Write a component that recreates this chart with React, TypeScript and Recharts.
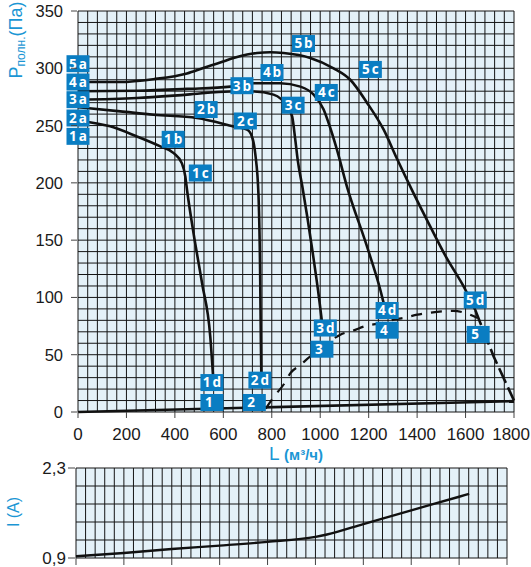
import { LineChart, Line, XAxis, YAxis, CartesianGrid, ReferenceDot } from 'recharts'

// fan curves, pressure (Pa) vs flow (m3/h)
const CURVE_1 = [
  { x: 0, y: 254.5 }, { x: 133, y: 249.3 }, { x: 243, y: 240.5 }, { x: 340, y: 231.8 },
  { x: 395, y: 226 }, { x: 429, y: 217 }, { x: 443, y: 205.6 }, { x: 450, y: 194 },
  { x: 477, y: 156 }, { x: 512, y: 112.6 }, { x: 546, y: 66 }, { x: 558, y: 30 },
]
const CURVE_2 = [
  { x: 0, y: 266 }, { x: 175, y: 262.4 }, { x: 312, y: 259.5 }, { x: 491, y: 256.6 },
  { x: 642, y: 249.3 }, { x: 698, y: 246.4 }, { x: 718, y: 240.5 }, { x: 732, y: 225 },
  { x: 745, y: 190 }, { x: 752, y: 120 }, { x: 755, y: 60 }, { x: 757, y: 30 },
]
const CURVE_3 = [
  { x: 0, y: 272.5 }, { x: 243, y: 274 }, { x: 450, y: 277 }, { x: 629, y: 279.8 },
  { x: 725, y: 279.8 }, { x: 807, y: 277 }, { x: 863, y: 266.7 }, { x: 884, y: 258 },
  { x: 897, y: 237.7 }, { x: 907, y: 220 }, { x: 926, y: 197 }, { x: 969, y: 139 },
  { x: 996, y: 98 }, { x: 1007, y: 79 },
]
const CURVE_4 = [
  { x: 0, y: 280 }, { x: 243, y: 280.4 }, { x: 450, y: 282 }, { x: 629, y: 284 },
  { x: 725, y: 287 }, { x: 835, y: 287 }, { x: 918, y: 284 }, { x: 973, y: 277 },
  { x: 1014, y: 264 }, { x: 1035, y: 252 }, { x: 1069, y: 229 }, { x: 1110, y: 197 },
  { x: 1193, y: 144.5 }, { x: 1248, y: 106.7 }, { x: 1262, y: 95 },
]
const CURVE_5 = [
  { x: 0, y: 288 }, { x: 175, y: 288 }, { x: 312, y: 290.5 }, { x: 450, y: 295.5 },
  { x: 520, y: 300.5 }, { x: 587, y: 305 }, { x: 642, y: 309 }, { x: 698, y: 312 },
  { x: 739, y: 313.3 }, { x: 794, y: 314 }, { x: 849, y: 313.3 }, { x: 959, y: 309 },
  { x: 1055, y: 300 }, { x: 1124, y: 290 }, { x: 1193, y: 270 }, { x: 1262, y: 246.4 },
  { x: 1317, y: 221 }, { x: 1385, y: 191 }, { x: 1454, y: 162 }, { x: 1523, y: 134 },
  { x: 1592, y: 109.6 }, { x: 1640, y: 89 },
]
const CURVE_5_TAIL = [{ x: 1640, y: 89 }, { x: 1716, y: 48.5 }, { x: 1800, y: 10 }]
const SYSTEM = [
  { x: 775, y: 3 }, { x: 815, y: 15 }, { x: 849, y: 24 }, { x: 877, y: 34 },
  { x: 918, y: 41 }, { x: 959, y: 48.5 }, { x: 993, y: 53 }, { x: 1048, y: 63 },
  { x: 1083, y: 67.5 }, { x: 1135, y: 71 }, { x: 1186, y: 75 }, { x: 1261, y: 78 },
  { x: 1310, y: 81 }, { x: 1343, y: 82 }, { x: 1401, y: 85 }, { x: 1446, y: 86.4 },
  { x: 1504, y: 87.8 }, { x: 1550, y: 88.3 }, { x: 1599, y: 86.4 }, { x: 1650, y: 82 },
]
const BASE = [{ x: 0, y: 0 }, { x: 1800, y: 9.5 }]

// current (A) vs flow
const CURRENT = [
  { x: 0, y: 0.926 }, { x: 200, y: 0.978 }, { x: 400, y: 1.041 }, { x: 600, y: 1.093 },
  { x: 800, y: 1.151 }, { x: 1000, y: 1.229 }, { x: 1048, y: 1.266 }, { x: 1200, y: 1.428 },
  { x: 1400, y: 1.642 }, { x: 1600, y: 1.853 }, { x: 1642, y: 1.898 },
]

// curve tags: [text, flow, pressure]
const TAGS: [string, number, number][] = [
  ['5a', 0, 304], ['4a', 0, 288], ['3a', 0, 272.6], ['2a', 0, 256.6], ['1a', 0, 240.6],
  ['1b', 393, 238], ['1c', 505, 208.6], ['2b', 529, 264], ['2c', 691, 254],
  ['3b', 677, 284.8], ['4b', 801, 296.3], ['5b', 931, 321.6], ['3c', 888, 267.8],
  ['4c', 1025, 278.9], ['5c', 1207, 299], ['1d', 553, 25.7], ['2d', 751, 27.8],
  ['3d', 1021, 73.3], ['4d', 1276, 88.6], ['5d', 1640, 97.8],
]
const POINT_TAGS: [string, number, number][] = [
  ['1', 553, 8.3], ['2', 728, 8.3], ['3', 1007, 54.8], ['4', 1276, 71.4], ['5', 1652, 67.7],
]

const FLOW_GRID = Array.from({ length: 46 }, (_, i) => i * 40)
const FLOW_LABELS = [0, 200, 400, 600, 800, 1000, 1200, 1400, 1600, 1800]
const PRESSURE_GRID = Array.from({ length: 36 }, (_, i) => i * 10)
const PRESSURE_LABELS = [0, 50, 100, 150, 200, 250, 300, 350]
const CURRENT_GRID = [0.9, 1.18, 1.46, 1.74, 2.02, 2.3]
const CURRENT_LABELS = [0.9, 2.3]

const FONT = "'Liberation Sans', Arial, sans-serif"
const BLUE = '#1b96d4'
const TAG_BLUE = '#0a7dc2'
const BG = '#e4f1f8'
const GRID = '#151515'

function FlowTick({ x, y, payload }: any) {
  const v = payload.value
  if (!FLOW_LABELS.includes(v)) return <g />
  const last = v === 1800
  return (
    <g>
      <line x1={x} x2={x} y1={y} y2={y + 6} stroke="#444" />
      <text
        x={last ? x + 16 : x} y={y + 28} textAnchor={last ? 'end' : 'middle'}
        fontSize={17} fill="#1a1a1a" fontFamily={FONT}
      >
        {v}
      </text>
    </g>
  )
}

function FlowTickBare({ x, y, payload }: any) {
  if (!FLOW_LABELS.includes(payload.value)) return <g />
  return <line x1={x} x2={x} y1={y} y2={y + 7} stroke="#444" />
}

function PressureTick({ x, y, payload }: any) {
  const v = payload.value
  if (!PRESSURE_LABELS.includes(v)) return <g />
  return (
    <g>
      <line x1={x - 7} x2={x - 1} y1={y} y2={y} stroke="#444" />
      <text x={x - 15} y={y + 6} textAnchor="end" fontSize={16.5} fill="#1a1a1a" fontFamily={FONT}>{v}</text>
    </g>
  )
}

function CurrentTick({ x, y, payload }: any) {
  const v = payload.value
  if (!CURRENT_LABELS.includes(v)) return <g />
  return (
    <g>
      <line x1={x - 8} x2={x - 1} y1={y} y2={y} stroke="#444" />
      <text x={x - 10} y={y + 6} textAnchor="end" fontSize={17} fill="#1a1a1a" fontFamily={FONT}>
        {v.toFixed(1).replace('.', ',')}
      </text>
    </g>
  )
}

const tagShape = (text: string, plain: boolean) => (p: any) => (
  <g>
    <rect x={p.cx - 11.5} y={p.cy - 8.5} width={23} height={17} fill={TAG_BLUE} />
    <text
      x={plain ? p.cx - 7 : p.cx + 1}
      y={p.cy + 4.8}
      textAnchor={plain ? 'start' : 'middle'}
      fill="#fff"
      fontSize={13.5}
      fontWeight={700}
      letterSpacing={plain ? 0 : 2}
      fontFamily="'Open Sans', sans-serif"
    >
      {text}
    </text>
  </g>
)

const lineProps = { dataKey: 'y', stroke: '#111', strokeWidth: 2.6, dot: false, isAnimationActive: false }

export default function App() {
  return (
    <div style={{ position: 'absolute', left: 0, top: 0, width: 531, height: 567, background: '#fff' }}>
      <div style={{ position: 'absolute', left: 0, top: 0 }}>
        <LineChart width={531} height={470} margin={{ top: 11, right: 17, bottom: 28, left: 18 }}>
          <CartesianGrid stroke={GRID} fill={BG} fillOpacity={1} />
          <XAxis
            type="number" dataKey="x" domain={[0, 1800]} ticks={FLOW_GRID} interval={0}
            tick={FlowTick} tickLine={false} axisLine={false} tickSize={0} tickMargin={0} height={30}
            label={(p: any) => (
              <text x={p.viewBox.x + 218} y={p.viewBox.y + 48} textAnchor="middle" fill={BLUE} fontFamily={FONT}>
                <tspan fontSize={19}>L </tspan>
                <tspan fontSize={15} fontWeight={700}>(м³/ч)</tspan>
              </text>
            )}
          />
          <YAxis
            type="number" domain={[0, 350]} ticks={PRESSURE_GRID} interval={0}
            tick={PressureTick} tickLine={false} axisLine={false} tickSize={0} tickMargin={0} width={60}
            label={(p: any) => {
              const cx = p.viewBox.x + 3.5
              const cy = p.viewBox.y + 29
              return (
                <text x={cx} y={cy} transform={`rotate(-90 ${cx} ${cy})`} textAnchor="middle" fill={BLUE} fontFamily={FONT}>
                  <tspan fontSize={18}>P</tspan>
                  <tspan fontSize={12} dy={3}>полн.</tspan>
                  <tspan fontSize={18} dy={-3}>(Па)</tspan>
                </text>
              )
            }}
          />
          <Line data={BASE} type="linear" {...lineProps} />
          <Line data={SYSTEM} type="monotone" {...lineProps} strokeWidth={2.2} strokeDasharray="11 9" />
          <Line data={CURVE_5_TAIL} type="linear" {...lineProps} strokeDasharray="16 5" />
          <Line data={CURVE_1} type="monotone" {...lineProps} />
          <Line data={CURVE_2} type="monotone" {...lineProps} />
          <Line data={CURVE_3} type="monotone" {...lineProps} />
          <Line data={CURVE_4} type="monotone" {...lineProps} />
          <Line data={CURVE_5} type="monotone" {...lineProps} />
          {TAGS.map(([t, x, y]) => (
            <ReferenceDot key={t} x={x} y={y} r={1} ifOverflow="visible" shape={tagShape(t, false)} />
          ))}
          {POINT_TAGS.map(([t, x, y]) => (
            <ReferenceDot key={t} x={x} y={y} r={1} ifOverflow="visible" shape={tagShape(t, true)} />
          ))}
        </LineChart>
      </div>
      <div style={{ position: 'absolute', left: 0, top: 450 }}>
        <LineChart width={531} height={117} margin={{ top: 18, right: 24, bottom: 0, left: 16 }}>
          <CartesianGrid stroke={GRID} fill={BG} fillOpacity={1} />
          <XAxis
            type="number" dataKey="x" domain={[0, 1800]} ticks={FLOW_GRID} interval={0}
            tick={FlowTickBare} tickLine={false} axisLine={false} tickSize={0} tickMargin={0} height={9}
          />
          <YAxis
            type="number" domain={[0.9, 2.3]} ticks={CURRENT_GRID} interval={0}
            tick={CurrentTick} tickLine={false} axisLine={false} tickSize={0} tickMargin={0} width={60}
            label={(p: any) => {
              const cx = p.viewBox.x + 2.5
              const cy = p.viewBox.y + 44
              return (
                <text x={cx} y={cy} transform={`rotate(-90 ${cx} ${cy})`} textAnchor="middle" fill={BLUE} fontSize={16} fontFamily={FONT}>
                  I (A)
                </text>
              )
            }}
          />
          <Line data={CURRENT} type="monotone" {...lineProps} strokeWidth={2.4} />
        </LineChart>
      </div>
    </div>
  )
}
